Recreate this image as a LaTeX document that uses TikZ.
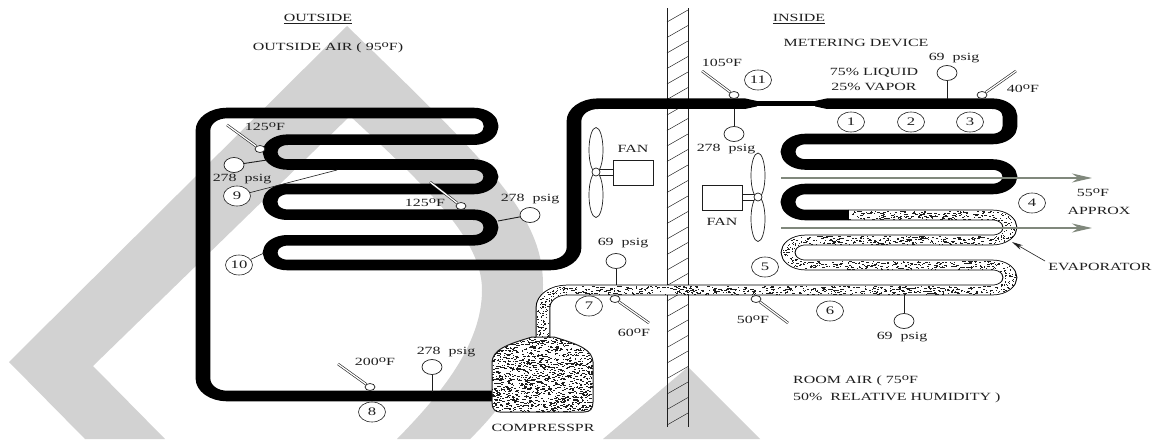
\documentclass[tikz,border=0pt]{standalone}
\usepackage{fontspec}
\setmainfont[FakeStretch=1.45]{Liberation Serif}
\usetikzlibrary{arrows.meta,shapes.geometric,calc}
\definecolor{wm}{RGB}{210,210,210}
\definecolor{airgrey}{RGB}{128,136,124}
\definecolor{ink}{RGB}{30,30,30}
\newcommand\dg{\raisebox{.6ex}{\fontsize{10}{10}\selectfont o}}
\newcommand\stiprun[4]{\foreach \i in {1,...,#4}{%
  \pgfmathsetmacro\sx{#1+rnd*(#2-#1)}\pgfmathsetmacro\sy{#3+(rnd-.5)*8.4}\pgfmathsetmacro\sw{.6+2.4*rnd}%
  \fill (\sx,\sy) rectangle +(\sw,.8);}}
\newcommand\stiparc[7]{\foreach \i in {1,...,#7}{%
  \pgfmathsetmacro\sa{#5+rnd*(#6-#5)}\pgfmathsetmacro\sd{(rnd-.5)*11}%
  \pgfmathsetmacro\sx{#1+(#3+\sd)*cos(\sa)}\pgfmathsetmacro\sy{#2+(#4+.72*\sd)*sin(\sa)}%
  \fill (\sx,\sy) rectangle +(1.2,.9);}}
\newcommand\stipv[4]{\foreach \i in {1,...,#4}{%
  \pgfmathsetmacro\sy{#2+rnd*(#3-#2)}\pgfmathsetmacro\sx{#1+(rnd-.5)*11-.6}%
  \fill (\sx,\sy) rectangle +(1.2,1);}}
% name, bulb position, free end
\newcommand\therm[3]{\node[bulb] (#1) at (#2) {}; \coordinate (#1e) at (#3); \draw[rod] (#1) -- (#1e);}
% name, dial position, pipe end
\newcommand\gauge[3]{\node[dial] (#1) at (#2) {}; \coordinate (#1e) at (#3); \draw[stem] (#1) -- (#1e);}
\tikzset{
  pipecanvas/.style={transform canvas={yscale=.72},x=1pt,y=-1.38889pt},
  pipe/.style={line width=14.7pt,black,line cap=butt,line join=round},
  pipewhite/.style={line width=12.6pt,white,line cap=butt,line join=round},
  bulb/.style={ellipse,draw=ink,fill=white,line width=.7pt,minimum width=10pt,minimum height=7pt,inner sep=0pt},
  rod/.style={draw=ink,line width=.6pt,double=white,double distance=1.3pt},
  dial/.style={ellipse,draw=ink,fill=white,line width=.7pt,minimum width=20pt,minimum height=15pt,inner sep=0pt},
  stem/.style={draw=ink,line width=.9pt},
  num/.style={ellipse,draw=ink,fill=white,line width=.6pt,minimum width=27pt,minimum height=20pt,inner sep=0pt,font=\fontsize{11.5}{11.5}\selectfont,text=ink},
  lbl/.style={inner sep=0pt,font=\fontsize{11}{13}\selectfont,text=ink},
  blade/.style={ellipse,draw=ink,fill=white,line width=.7pt,minimum width=14pt,minimum height=45pt,inner sep=0pt},
  hub/.style={circle,draw=ink,fill=white,line width=.7pt,minimum size=8pt,inner sep=0pt},
  motor/.style={rectangle,draw=ink,fill=white,line width=.8pt,minimum width=40pt,minimum height=25pt,inner sep=0pt},
  air/.style={draw=airgrey,line width=2pt,-{Stealth[length=20pt,width=9pt]}},
  wallline/.style={draw=ink,line width=.8pt},
  hatch/.style={draw=ink,line width=.45pt},
}
\begin{document}
\begin{tikzpicture}[x=1pt,y=-1pt]
\useasboundingbox (0,0) rectangle (1159,439);
\fill[white] (0,0) rectangle (1159,439);
% watermark
\fill[wm] (347,26) -- (9,362) -- (85,439) -- (165,439) -- (93,366) -- (350,116)
  .. controls (430,190) and (482,240) .. (482,290)
  .. controls (482,345) and (440,395) .. (397,439)
  -- (470,439) .. controls (515,395) and (543,345) .. (543,285)
  .. controls (543,215) and (490,165) .. cycle;
\fill[wm] (603,439) -- (688,367) -- (760,439) -- cycle;
% wall
\foreach \yy in {8,23.5,...,420}{\draw[hatch] (667,\yy+14) -- (688,\yy+2);}
\draw[wallline] (667,8) -- (667,427);
\draw[wallline] (688,8) -- (688,427);
% pipes
\begin{scope}[pipecanvas]
\draw[pipe,rounded corners=24pt] (495,396) -- (203,396) -- (203,113)
  [rounded corners=17.5pt] -- (491,113) -- (491,139.7) -- (270,139.7) -- (270,164.5) -- (491,164.5)
  -- (491,189) -- (270,189) -- (270,214.7) -- (491,214.7) -- (491,240.3) -- (270,240.3) -- (270,265)
  [rounded corners=24pt] -- (574,265) -- (574,103.7) -- (745,103.7);
\fill[black] (745,98.4) -- (757,101) -- (757,106.4) -- (745,109) -- cycle;
\draw[line width=7.2pt,black] (757,103.7) -- (815,103.7);
\fill[black] (827,98.4) -- (815,101) -- (815,106.4) -- (827,109) -- cycle;
\draw[pipe,rounded corners=17.5pt] (827,103.7) -- (1010,103.7) -- (1010,139) -- (788,139) -- (788,164.5) -- (1010,164.5)
  -- (1010,189) -- (788,189) -- (788,215) -- (848,215);
\draw[pipe,rounded corners=17.5pt] (848,215) -- (1010,215) -- (1010,240) -- (788,240) -- (788,265) -- (1010,265)
  -- (1010,290) [rounded corners=24pt] -- (543,290) -- (543,340);
\draw[pipewhite,rounded corners=17.5pt] (849,215) -- (1010,215) -- (1010,240) -- (788,240) -- (788,265) -- (1010,265)
  -- (1010,290) [rounded corners=24pt] -- (543,290) -- (543,340);
\end{scope}
% stipple in the evaporator and suction line
\pgfmathsetseed{4711}
\begin{scope}[ink]
\stiprun{849}{992}{215}{190}
\stiparc{992.5}{227.5}{17.5}{12.5}{-90}{90}{70}
\stiprun{805}{992}{240}{240}
\stiparc{805.5}{252.5}{17.5}{12.5}{90}{270}{70}
\stiprun{805}{992}{265}{240}
\stiparc{992.5}{277.5}{17.5}{12.5}{-90}{90}{70}
\stiprun{568}{992}{290}{540}
\stiparc{567}{307.3}{24}{17.3}{180}{270}{70}
\stipv{543}{307}{338}{70}
\end{scope}
% compressor
\path[fill=white,draw=ink,line width=1pt]
  (492,402) -- (492,362) .. controls (493,350) and (505,345) .. (532,337)
  -- (554,337) .. controls (581,345) and (592,350) .. (593,362)
  -- (593,402) .. controls (593,409) and (590,412) .. (584,412)
  -- (500,412) .. controls (495,412) and (492,409) .. (492,402) -- cycle;
\begin{scope}
\clip (492,402) -- (492,362) .. controls (493,350) and (505,345) .. (532,337)
  -- (554,337) .. controls (581,345) and (592,350) .. (593,362)
  -- (593,402) .. controls (593,409) and (590,412) .. (584,412)
  -- (500,412) .. controls (495,412) and (492,409) .. (492,402) -- cycle;
\foreach \i in {1,...,1500}{%
  \pgfmathsetmacro\sx{491+rnd*102}\pgfmathsetmacro\sy{336+rnd*76}\pgfmathsetmacro\sw{.7+2.2*rnd}%
  \fill[ink] (\sx,\sy) rectangle +(\sw,.9);}
\end{scope}
% air arrows
\coordinate (airAs) at (781,178); \coordinate (airAe) at (1092,178);
\coordinate (airBs) at (781,228); \coordinate (airBe) at (1092,228);
\draw[air] (airAs) -- (airAe);
\draw[air] (airBs) -- (airBe);
% thermometers
\therm{tA}{260,149}{227,125}
\therm{tB}{461,206}{430,182}
\therm{tC}{734,95}{702,71}
\therm{tD}{982,95}{1016,71}
\therm{tE}{370,387}{338,364}
\therm{tF}{615,299}{649,323}
\therm{tG}{756,299}{788,323}
% gauges
\gauge{gA}{234,165}{267,160}
\gauge{gB}{530,215}{498,221}
\gauge{gC}{734,134}{734,109}
\gauge{gD}{947,73}{947,99}
\gauge{gE}{432,367}{432,392}
\gauge{gF}{616,261}{616,285}
\gauge{gG}{904,321}{904,295}
% numbered circles
\node[num] (n1) at (851,122) {1};
\node[num] (n2) at (911,122) {2};
\node[num] (n3) at (970,122) {3};
\node[num] (n4) at (1032,203) {4};
\node[num] (n5) at (765,267) {5};
\node[num] (n6) at (830,311) {6};
\node[num] (n7) at (589,306) {7};
\node[num] (n8) at (372,412) {8};
\node[num] (n9) at (237,196) {9};
\node[num] (n10) at (239,265) {10};
\node[num] (n11) at (758,80) {11};
\coordinate (n9e) at (337,170);
\coordinate (n10e) at (264,253);
\draw[ink,line width=.6pt] (n9) -- (n9e);
\draw[ink,line width=.6pt] (n10) -- (n10e);
% evaporator pointer
\node[lbl] (evap) at (1100,267) {EVAPORATOR};
\coordinate (evape) at (1012,242);
\draw[ink,line width=.6pt,-{Stealth[length=11pt,width=5pt]}] (1045,261) -- (evape);
% fans
\node[motor] (mL) at (633,172.5) {};
\node[blade] (bLu) at (596,150) {};
\node[blade] (bLd) at (596,195) {};
\node[hub] (hL) at (596,172) {};
\draw[ink,line width=.7pt] ([yshift=-3pt]hL.east) -- ([yshift=-3pt]hL.east -| mL.west);
\draw[ink,line width=.7pt] ([yshift=3pt]hL.east) -- ([yshift=3pt]hL.east -| mL.west);
\node[motor] (mR) at (722,197.5) {};
\node[blade] (bRu) at (758,175.5) {};
\node[blade] (bRd) at (758,219) {};
\node[hub] (hR) at (758,197) {};
\draw[ink,line width=.7pt] ([yshift=-3pt]hR.west) -- ([yshift=-3pt]hR.west -| mR.east);
\draw[ink,line width=.7pt] ([yshift=3pt]hR.west) -- ([yshift=3pt]hR.west -| mR.east);
% texts
\node[lbl] (tOut) at (318,19) {\underline{OUTSIDE}};
\node[lbl] (tOutAir) at (328,48) {OUTSIDE AIR ( 95\dg F)};
\node[lbl] (tIn) at (799,19) {\underline{INSIDE}};
\node[lbl] (tMeter) at (856,43) {METERING DEVICE};
\node[lbl] (tLiq) at (874,73) {75\% LIQUID};
\node[lbl] (tVap) at (874,87) {25\% VAPOR};
\node[lbl] (tFanL) at (633,149) {FAN};
\node[lbl] (tFanR) at (722,222) {FAN};
\node[lbl] (t55) at (1093,193) {55\dg F};
\node[lbl] (tApprox) at (1099,211) {APPROX};
\node[lbl,anchor=west] (tRoom) at (793,381) {ROOM AIR ( 75\dg F};
\node[lbl,anchor=west] (tRel) at (793,398) {50\%\ \ RELATIVE HUMIDITY )};
\node[lbl] (tComp) at (543,428) {COMPRESSPR};
\node[lbl] at (265,127) {125\dg F};
\node[lbl] at (425,203) {125\dg F};
\node[lbl] at (722,63) {105\dg F};
\node[lbl] at (1023,89) {40\dg F};
\node[lbl] at (375,362) {200\dg F};
\node[lbl] at (634,333) {60\dg F};
\node[lbl] at (753,320) {50\dg F};
\node[lbl] at (242,179) {278\ \ psig};
\node[lbl] at (530,199) {278\ \ psig};
\node[lbl] at (726,149) {278\ \ psig};
\node[lbl] at (954,58) {69\ \ psig};
\node[lbl] at (446,352) {278\ \ psig};
\node[lbl] at (623,243) {69\ \ psig};
\node[lbl] at (902,337) {69\ \ psig};
\end{tikzpicture}
\end{document}
